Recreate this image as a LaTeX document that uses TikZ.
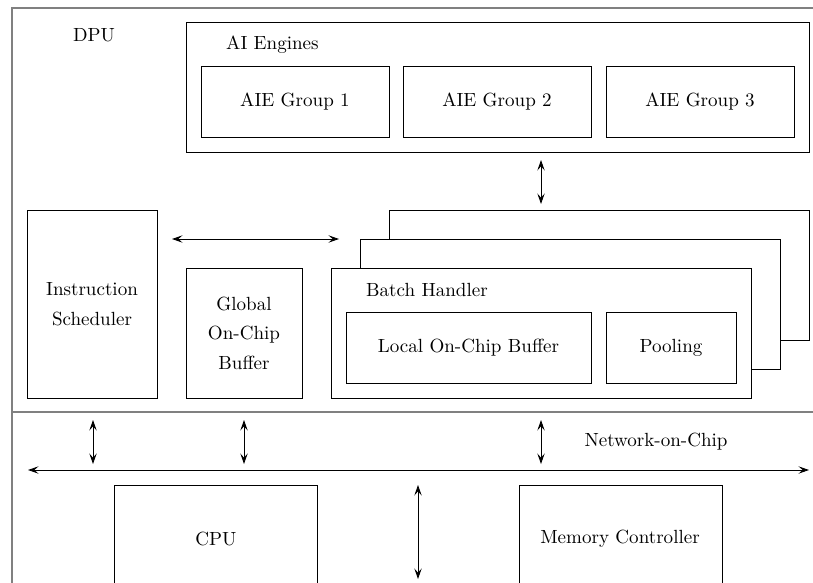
\documentclass[tikz,border=0pt]{standalone}
\usetikzlibrary{arrows.meta,fit}
\tikzset{
  frm/.style={draw=black!50, line width=0.9pt, inner sep=0pt},
  blk/.style={draw=black, line width=0.5pt, inner sep=0pt, fill=white},
  arr/.style={{Stealth[length=2mm, width=1.4mm, inset=0.8mm]}-{Stealth[length=2mm, width=1.4mm, inset=0.8mm]}, line width=0.5pt},
  note/.style={inner sep=1pt, align=center, font=\fontsize{10.3}{16}\selectfont},
}
\begin{document}
\begin{tikzpicture}[x=0.019cm,y=-0.019cm]
\useasboundingbox (0,0) rectangle (813,582);
\clip (0,0) rectangle (813,582);
% ================= frames =================
\node[frm, fit={(12,8) (840,600)}] (soc) {};
\node[frm, fit={(12,8) (840,412)}] (dpu) {};
\node[note] (dpul) at (94,35) {DPU};
% ================= AI engines =================
\node[blk, fit={(186,22) (809,152)}] (aie) {};
\node[note, anchor=west] (aiel) at (224,45) {AI Engines};
\foreach \i/\xa/\xb in {1/201/389, 2/403/591, 3/606/794}{
  \node[blk, fit={(\xa,66) (\xb,137)}] (g\i) {};
  \node[note] (g\i l) at (g\i) {AIE Group \i};}
% ================= middle row =================
\node[blk, fit={(27,210) (157,398)}] (isch) {};
\node[note] (ischl) at (isch) {Instruction\\Scheduler};
\node[blk, fit={(186,268) (302,398)}] (gbuf) {};
\node[note] (gbufl) at (gbuf) {Global\\On-Chip\\Buffer};
\node[blk, fit={(389,210) (809,340)}] (bh3) {};
\node[blk, fit={(360,239) (780,369)}] (bh2) {};
\node[blk, fit={(331,268) (751,398)}] (bh1) {};
\node[note, anchor=west] (bhl) at (364,290) {Batch Handler};
\node[blk, fit={(346,312) (591,383)}] (lbuf) {};
\node[note] (lbufl) at (lbuf) {Local On-Chip Buffer};
\node[blk, fit={(606,312) (736,383)}] (pool) {};
\node[note] (pooll) at (pool) {Pooling};
% ================= network-on-chip =================
\node[note] (nocl) at (656,442) {Network-on-Chip};
\node[blk, fit={(114,485) (317,640)}] (cpu) {};
\node[note] (cpul) at (216,539) {CPU};
\node[blk, fit={(519,485) (722,640)}] (mem) {};
\node[note] (meml) at (620,539) {Memory Controller};
% ================= arrows =================
\coordinate (aiA) at (541,160); \coordinate (aiB) at (541,204);
\coordinate (hA) at (172,239); \coordinate (hB) at (339,239);
\coordinate (nocW) at (28,470); \coordinate (nocE) at (809,470);
\coordinate (mA) at (418,485); \coordinate (mB) at (418,579);
\draw[arr] (aiA) -- (aiB);
\draw[arr] (hA) -- (hB);
\draw[arr] (nocW) -- (nocE);
\foreach \x/\nm in {93/is, 244/gb, 541/bh}{
  \coordinate (\nm A) at (\x,420); \coordinate (\nm B) at (\x,464);
  \draw[arr] (\nm A) -- (\nm B);}
\draw[arr] (mA) -- (mB);
\end{tikzpicture}
\end{document}
